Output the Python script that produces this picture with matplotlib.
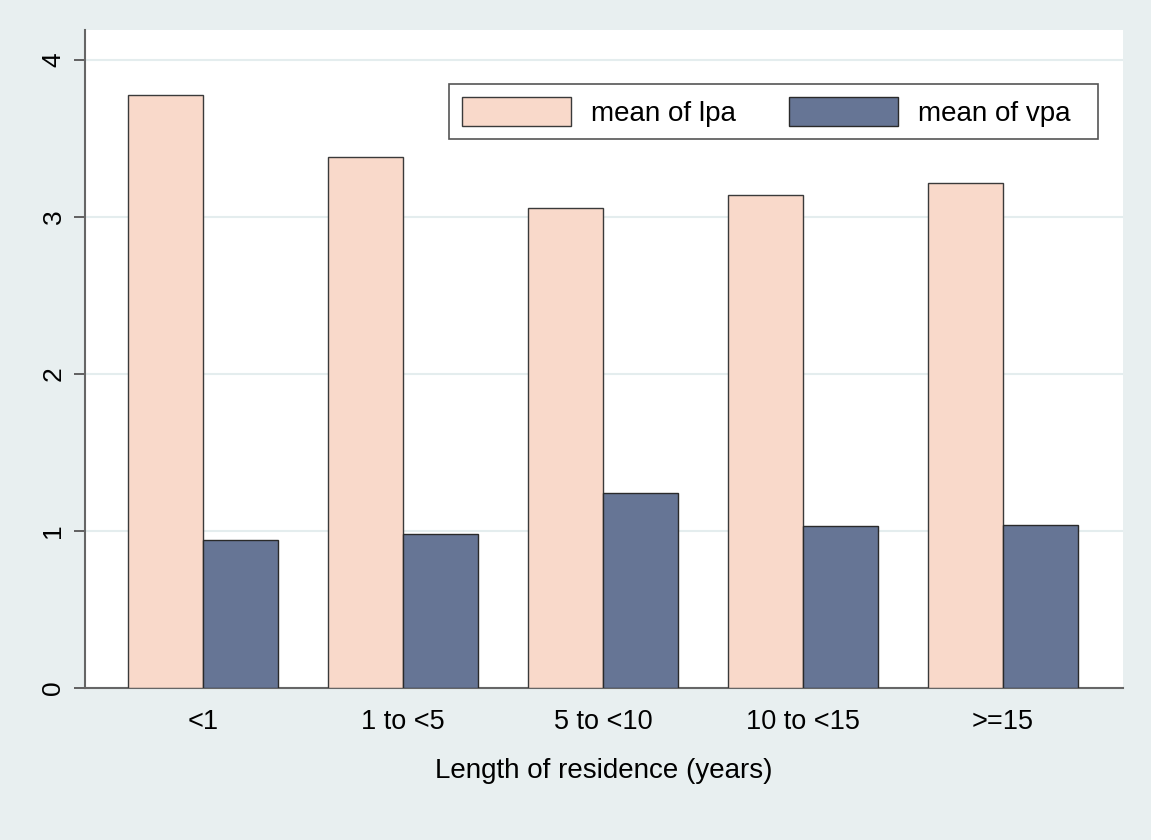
import numpy as np
import matplotlib.pyplot as plt

categories = ["<1", "1 to <5", "5 to <10", "10 to <15", ">=15"]
lpa_means = [3.78, 3.38, 3.06, 3.14, 3.22]
vpa_means = [0.94, 0.98, 1.24, 1.03, 1.04]
y_ticks = [0, 1, 2, 3, 4]

plt.rcParams["font.family"] = ["Liberation Sans", "DejaVu Sans"]

bg = "#E8EFF0"
fig = plt.figure(figsize=(11.51, 8.4), dpi=100, facecolor=bg)
ax = fig.add_axes([0.0738, 0.181, 0.902, 0.783])
ax.set_facecolor("white")

x = np.arange(len(categories))
w = 0.375
ax.bar(x - w / 2, lpa_means, width=w, color="#F9D9CA", edgecolor="#3a3a3a",
       linewidth=1.0, label="mean of lpa", zorder=3)
ax.bar(x + w / 2, vpa_means, width=w, color="#667595", edgecolor="#2a2a2a",
       linewidth=1.0, label="mean of vpa  ", zorder=3)

ax.set_xlim(-0.59, 4.6)
ax.set_ylim(0, 4.19)
ax.set_yticks(y_ticks)
ax.set_yticklabels([str(t) for t in y_ticks], rotation=90, va="center", fontsize=19)
ax.set_xticks(x)
ax.set_xticklabels(categories, fontsize=19.5)
ax.tick_params(axis="x", length=0, pad=15)
ax.tick_params(axis="y", length=8, width=1.3, color="#555555", pad=6)
ax.yaxis.grid(True, color="#E4EDEE", linewidth=1.5, zorder=0)
ax.set_axisbelow(True)

for s in ["top", "right"]:
    ax.spines[s].set_visible(False)
for s in ["left", "bottom"]:
    ax.spines[s].set_color("#666666")
    ax.spines[s].set_linewidth(1.5)

ax.set_xlabel("Length of residence (years)", fontsize=20, labelpad=17)

leg = ax.legend(loc="upper right", bbox_to_anchor=(0.976, 0.918), ncol=2,
                fontsize=20, handlelength=3.95, handleheight=1.25,
                columnspacing=1.9, handletextpad=0.7, borderpad=0.45,
                borderaxespad=0, fancybox=False, framealpha=1,
                edgecolor="#555555")
leg.get_frame().set_linewidth(1.2)

fig.savefig("out.png", dpi=100, facecolor=bg)
